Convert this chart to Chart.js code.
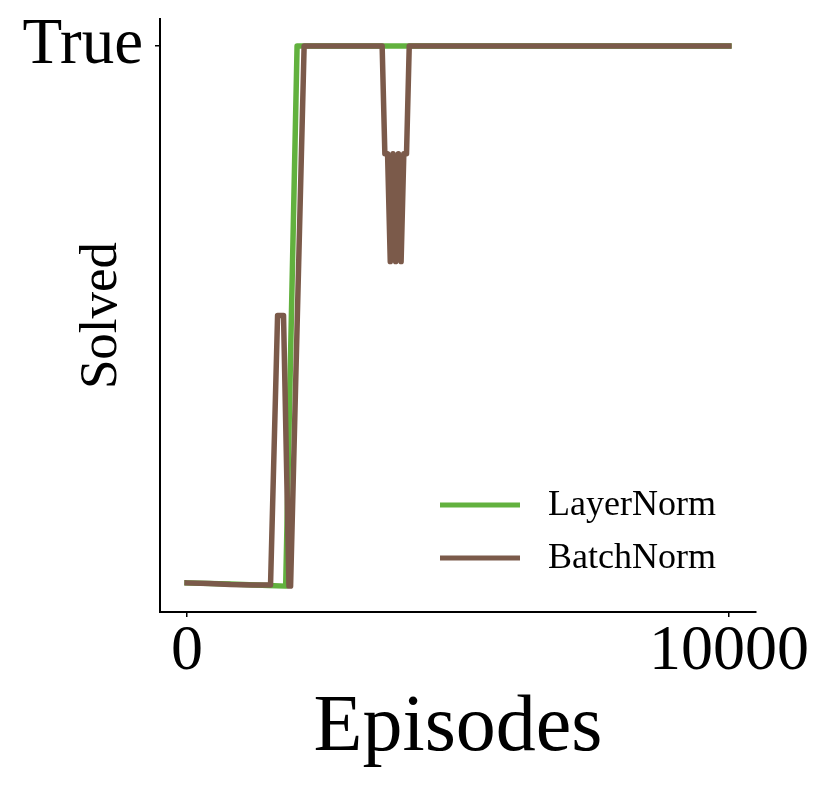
<!DOCTYPE html>
<html>
<head>
<meta charset="utf-8">
<script src="https://cdn.jsdelivr.net/npm/chart.js@4"></script>
<style>
  html, body { margin: 0; padding: 0; background: #fff; }
  #wrap { width: 832px; height: 790px; }
</style>
</head>
<body>
<div id="wrap"><canvas id="c" width="832" height="790"></canvas></div>
<script>
// ---- data ----
const seriesNames = ['LayerNorm', 'BatchNorm'];

const layerNormEpisodes = [0, 800, 1500, 1820, 2030, 10000];
const layerNormSolved   = [0.004, 0.002, -0.001, -0.002, 1, 1];

const batchNormEpisodes = [0, 400, 800, 1200, 1540, 1670, 1780, 1880, 1910, 2160,
                           3600, 3650, 3700, 3750, 3800, 3850, 3900, 3950, 4000, 4050, 4100, 10000];
const batchNormSolved   = [0.004, 0.003, 0.001, 0.0, 0.0, 0.5, 0.5, -0.002, -0.002, 1,
                           1, 0.8, 0.8, 0.6, 0.8, 0.6, 0.8, 0.6, 0.8, 0.8, 1, 1];

const xTickValues = [0, 10000];
const xTickLabels = ['0', '10000'];
const yTickValues = [1];
const yTickLabels = ['True'];

const xTitle = 'Episodes';
const yTitle = 'Solved';

const colors = ['#62b13e', '#7b5a4a'];
const serif = "'Liberation Serif', 'Times New Roman', serif";

function toPoints(xs, ys) { return xs.map((x, i) => ({ x: x, y: ys[i] })); }

const legendPlugin = {
  id: 'insideLegend',
  afterDatasetsDraw(chart) {
    const ctx = chart.ctx;
    const area = chart.chartArea;
    const x0 = area.right - 316, x1 = area.right - 236, tx = area.right - 208;
    const ys = [area.bottom - 107, area.bottom - 54];
    ctx.save();
    chart.data.datasets.forEach((ds, i) => {
      ctx.beginPath();
      ctx.strokeStyle = ds.borderColor;
      ctx.lineWidth = 5;
      ctx.lineCap = 'butt';
      ctx.moveTo(x0, ys[i]);
      ctx.lineTo(x1, ys[i]);
      ctx.stroke();
      ctx.fillStyle = '#000';
      ctx.font = '36px ' + serif;
      ctx.textAlign = 'left';
      ctx.textBaseline = 'middle';
      ctx.fillText(ds.label, tx, ys[i] + 1);
    });
    ctx.restore();
  }
};

new Chart(document.getElementById('c'), {
  type: 'line',
  data: {
    datasets: [
      {
        label: seriesNames[0],
        data: toPoints(layerNormEpisodes, layerNormSolved),
        borderColor: colors[0],
        backgroundColor: colors[0],
        borderWidth: 5.5,
        pointRadius: 0,
        tension: 0,
        borderJoinStyle: 'round',
        borderCapStyle: 'square',
        fill: false,
        order: 1
      },
      {
        label: seriesNames[1],
        data: toPoints(batchNormEpisodes, batchNormSolved),
        borderColor: colors[1],
        backgroundColor: colors[1],
        borderWidth: 5.5,
        pointRadius: 0,
        tension: 0,
        borderJoinStyle: 'round',
        borderCapStyle: 'square',
        fill: false,
        order: 0
      }
    ]
  },
  options: {
    responsive: false,
    animation: false,
    devicePixelRatio: 1,
    layout: { padding: { left: 0, top: 19, right: 76, bottom: 0 } },
    plugins: {
      legend: { display: false },
      tooltip: { enabled: false }
    },
    scales: {
      x: {
        type: 'linear',
        min: -500,
        max: 10500,
        afterBuildTicks: (s) => { s.ticks = xTickValues.map(v => ({ value: v })); },
        afterFit: (s) => { s.height = 178; s.paddingLeft = 0; s.paddingRight = 0; },
        ticks: {
          color: '#000',
          font: { family: serif, size: 64, lineHeight: 1 },
          padding: 3,
          maxRotation: 0,
          autoSkip: false,
          callback: (v) => { const i = xTickValues.indexOf(v); return i >= 0 ? xTickLabels[i] : ''; }
        },
        grid: { display: true, drawOnChartArea: false, drawTicks: true, tickLength: 5, color: '#000', lineWidth: 1.5 },
        border: { display: true, color: '#000', width: 2 },
        title: {
          display: true,
          text: xTitle,
          color: '#000',
          font: { family: serif, size: 80, lineHeight: 1 },
          padding: { top: 0, bottom: 21 }
        }
      },
      y: {
        type: 'linear',
        min: -0.05,
        max: 1.05,
        afterBuildTicks: (s) => { s.ticks = yTickValues.map(v => ({ value: v })); },
        afterFit: (s) => { s.width = 160; s.paddingTop = 0; s.paddingBottom = 0; },
        ticks: {
          color: '#000',
          font: { family: serif, size: 65, lineHeight: 1 },
          padding: 12,
          autoSkip: false,
          callback: (v) => { const i = yTickValues.indexOf(v); return i >= 0 ? yTickLabels[i] : ''; }
        },
        grid: { display: true, drawOnChartArea: false, drawTicks: true, tickLength: 5, color: '#000', lineWidth: 1.5 },
        border: { display: true, color: '#000', width: 2 },
        title: {
          display: true,
          text: yTitle,
          color: '#000',
          font: { family: serif, size: 53, lineHeight: 1 },
          padding: { top: 76, bottom: 0 }
        }
      }
    }
  },
  plugins: [legendPlugin]
});
</script>
</body>
</html>
